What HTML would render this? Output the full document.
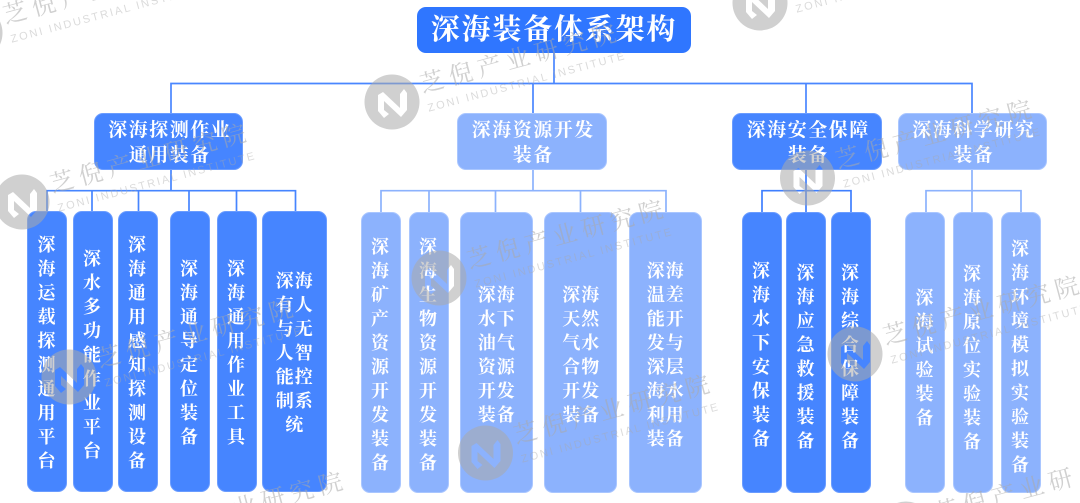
<!DOCTYPE html>
<html lang="zh"><head><meta charset="utf-8"><title>深海装备体系架构</title>
<style>
html,body{margin:0;padding:0;background:#fff;width:1080px;height:503px;overflow:hidden}
#p{position:relative;width:1080px;height:503px;overflow:hidden;background:#fff;font-family:"Liberation Serif","Noto Serif CJK SC",serif;font-weight:700;color:#fff}
.b{position:absolute;box-sizing:border-box;border-radius:9px}
.d{background:#4685ff;border:1px solid #6a9cff}
.l{background:#8cb2fd;border:1px solid #a9c6ff}
.t{position:absolute;left:0;right:0;margin:auto;transform:translateY(-50%);text-align:center;font-size:18px;line-height:24px;letter-spacing:1px;width:20px;word-break:break-all}
.w{width:40px;left:1.5px}
.h{font-size:19px;line-height:25px;letter-spacing:1.5px;width:auto;word-break:normal;left:2.5px}
svg{position:absolute;left:0;top:0}
.c{font-size:24px;font-weight:400;letter-spacing:5.6px}
.e{font-size:11px;font-weight:400;font-family:"Liberation Sans",sans-serif;fill-opacity:.42}
</style></head><body><div id="p">
<svg width="1080" height="503" fill="none" stroke-width="1.7">
<path d="M554 52V83.500M171 113V83.500H972V113M533 83.500V113M806 83.500V113" stroke="#4a86ff"/>
<path d="M171 169V190.700M47 212V190.700H295.500V212M92 190.700V212M138.500 190.700V212M189 190.700V212M236.500 190.700V212" stroke="#4685ff"/>
<path d="M533 169V190.700M381 212V190.700H666V212M429 190.700V212M495.500 190.700V212M580.500 190.700V212" stroke="#8cb2fd"/>
<path d="M806 169V212M762 212V190.700H851V212" stroke="#3f7fff"/>
<path d="M972 169V212M926 212V190.700H1021V212" stroke="#8cb2fd"/>
</svg>
<div class="b" style="left:417px;top:7px;width:274px;height:46px;background:#2f76ff"><div class="t" style="top:23px;width:auto;font-size:29px;line-height:34px;letter-spacing:1.8px;word-break:normal">深海装备体系架构</div></div>
<div class="b d" style="left:94px;top:113px;width:149px;height:57px"><div class="t h" style="top:29px">深海探测作业<br>通用装备</div></div>
<div class="b l" style="left:457px;top:113px;width:150px;height:57px"><div class="t h" style="top:29px">深海资源开发<br>装备</div></div>
<div class="b d" style="left:732px;top:113px;width:150px;height:57px"><div class="t h" style="top:29px">深海安全保障<br>装备</div></div>
<div class="b l" style="left:898px;top:113px;width:149px;height:57px"><div class="t h" style="top:29px">深海科学研究<br>装备</div></div>

<div class="b d" style="left:27px;top:211px;width:40px;height:281px"><div class="t" style="top:141px">深海运载探测通用平台</div></div>
<div class="b d" style="left:72.500px;top:211px;width:40px;height:281px"><div class="t" style="top:143px">深水多功能作业平台</div></div>
<div class="b d" style="left:117.500px;top:211px;width:40px;height:281px"><div class="t" style="top:141px">深海通用感知探测设备</div></div>
<div class="b d" style="left:169.500px;top:211px;width:40px;height:281px"><div class="t" style="top:141px">深海通导定位装备</div></div>
<div class="b d" style="left:216.500px;top:211px;width:40px;height:281px"><div class="t" style="top:141px">深海通用作业工具</div></div>
<div class="b d" style="left:261.500px;top:211px;width:65px;height:281px"><div class="t w" style="top:141px">深海有人与无人智能控制系统</div></div>

<div class="b l" style="left:360.500px;top:212px;width:40px;height:281px"><div class="t" style="top:142px">深海矿产资源开发装备</div></div>
<div class="b l" style="left:408.500px;top:212px;width:40px;height:281px"><div class="t" style="top:142px">深海生物资源开发装备</div></div>
<div class="b l" style="left:459.500px;top:212px;width:73px;height:281px"><div class="t w" style="top:142px">深海水下油气资源开发装备</div></div>
<div class="b l" style="left:544px;top:212px;width:73px;height:281px"><div class="t w" style="top:142px">深海天然气水合物开发装备</div></div>
<div class="b l" style="left:628.500px;top:212px;width:73px;height:281px"><div class="t w" style="top:142px">深海温差能开发与深层海水利用装备</div></div>

<div class="b d" style="left:741.500px;top:212px;width:40px;height:281px"><div class="t" style="top:142px">深海水下安保装备</div></div>
<div class="b d" style="left:786px;top:212px;width:40px;height:281px"><div class="t" style="top:144px">深海应急救援装备</div></div>
<div class="b d" style="left:830.500px;top:212px;width:40px;height:281px"><div class="t" style="top:144px">深海综合保障装备</div></div>

<div class="b l" style="left:905px;top:212px;width:40px;height:281px"><div class="t" style="top:145px">深海试验装备</div></div>
<div class="b l" style="left:952.500px;top:212px;width:40px;height:281px"><div class="t" style="top:145px">深海原位实验装备</div></div>
<div class="b l" style="left:1000.500px;top:212px;width:40px;height:281px"><div class="t" style="top:144px">深海环境模拟实验装备</div></div>

<svg width="1080" height="503" style="font-family:'Liberation Serif','Noto Serif CJK SC',serif">
<defs><symbol id="m" overflow="visible"><path fill-rule="evenodd" d="M0-27.500A27.500 27.500 0 1 1 0 27.500A27.500 27.500 0 1 1 0-27.500ZM-14-7L-9-10L8 6L8-8L12-13L15-9L15 8L9 15L-8-1L-8 8L-3 12L-8 16L-14 9Z"/></symbol></defs>
<g fill="#aaa" fill-opacity=".55">
<g transform="translate(-25 33)"><use href="#m"/><g transform="rotate(-15)"><text class="c" x="32" y="-1">芝倪产业研究院</text><text class="e" x="33" y="19" textLength="203">ZONI INDUSTRIAL INSTITUTE</text></g></g>
<g transform="translate(392 102)"><use href="#m"/><g transform="rotate(-15)"><text class="c" x="32" y="-1">芝倪产业研究院</text><text class="e" x="33" y="19" textLength="203">ZONI INDUSTRIAL INSTITUTE</text></g></g>
<g transform="translate(760 3)"><use href="#m"/><g transform="rotate(-15)"><text class="c" x="32" y="-1">芝倪产业研究院</text><text class="e" x="33" y="19" textLength="203">ZONI INDUSTRIAL INSTITUTE</text></g></g>
<g transform="translate(22 202)"><use href="#m"/><g transform="rotate(-15)"><text class="c" x="32" y="-1">芝倪产业研究院</text><text class="e" x="33" y="19" textLength="203">ZONI INDUSTRIAL INSTITUTE</text></g></g>
<g transform="translate(807.500 178)"><use href="#m"/><g transform="rotate(-15)"><text class="c" x="32" y="-1">芝倪产业研究院</text><text class="e" x="33" y="19" textLength="203">ZONI INDUSTRIAL INSTITUTE</text></g></g>
<g transform="translate(69 377)"><use href="#m"/><g transform="rotate(-15)"><text class="c" x="32" y="-1">芝倪产业研究院</text><text class="e" x="33" y="19" textLength="203">ZONI INDUSTRIAL INSTITUTE</text></g></g>
<g transform="translate(439 278)"><use href="#m"/><g transform="rotate(-15)"><text class="c" x="32" y="-1">芝倪产业研究院</text><text class="e" x="33" y="19" textLength="203">ZONI INDUSTRIAL INSTITUTE</text></g></g>
<g transform="translate(485.500 453)"><use href="#m"/><g transform="rotate(-15)"><text class="c" x="32" y="-1">芝倪产业研究院</text><text class="e" x="33" y="19" textLength="203">ZONI INDUSTRIAL INSTITUTE</text></g></g>
<g transform="translate(855 354)"><use href="#m"/><g transform="rotate(-15)"><text class="c" x="32" y="-1">芝倪产业研究院</text><text class="e" x="33" y="19" textLength="203">ZONI INDUSTRIAL INSTITUTE</text></g></g>
<path d="M897.100 503A27.500 27.500 0 0 1 914.900 503Z"/>
<g transform="translate(906 531) rotate(-15)"><text class="c" x="32" y="-1">芝倪产业研</text></g>
<g transform="translate(118.500 550) rotate(-15)"><text class="c" x="121" y="-1">业研究院</text></g>
</g></svg>
</div></body></html>
